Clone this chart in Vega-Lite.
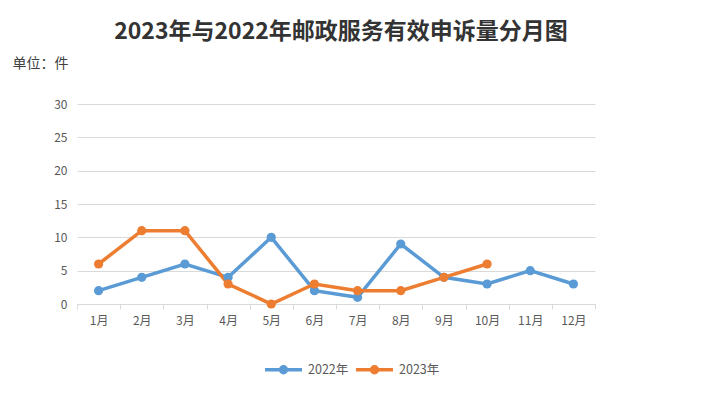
{
  "$schema": "https://vega.github.io/schema/vega-lite/v6.json",
  "autosize": {"type": "none"},
  "width": 518,
  "height": 200,
  "padding": {"left": 77, "top": 104, "right": 111, "bottom": 90},
  "background": "white",
  "title": {
    "text": "2023年与2022年邮政服务有效申诉量分月图",
    "font": "Noto Sans CJK SC",
    "fontSize": 23,
    "fontWeight": "bold",
    "color": "#333333",
    "anchor": "middle",
    "frame": "group",
    "dx": 5,
    "offset": 12
  },
  "data": {
    "values": [
      {"month": "1月", "year": "2022年", "value": 2},
      {"month": "2月", "year": "2022年", "value": 4},
      {"month": "3月", "year": "2022年", "value": 6},
      {"month": "4月", "year": "2022年", "value": 4},
      {"month": "5月", "year": "2022年", "value": 10},
      {"month": "6月", "year": "2022年", "value": 2},
      {"month": "7月", "year": "2022年", "value": 1},
      {"month": "8月", "year": "2022年", "value": 9},
      {"month": "9月", "year": "2022年", "value": 4},
      {"month": "10月", "year": "2022年", "value": 3},
      {"month": "11月", "year": "2022年", "value": 5},
      {"month": "12月", "year": "2022年", "value": 3},
      {"month": "1月", "year": "2023年", "value": 6},
      {"month": "2月", "year": "2023年", "value": 11},
      {"month": "3月", "year": "2023年", "value": 11},
      {"month": "4月", "year": "2023年", "value": 3},
      {"month": "5月", "year": "2023年", "value": 0},
      {"month": "6月", "year": "2023年", "value": 3},
      {"month": "7月", "year": "2023年", "value": 2},
      {"month": "8月", "year": "2023年", "value": 2},
      {"month": "9月", "year": "2023年", "value": 4},
      {"month": "10月", "year": "2023年", "value": 6}
    ]
  },
  "mark": {
    "type": "line",
    "strokeWidth": 3.5,
    "point": {"filled": true, "size": 85}
  },
  "encoding": {
    "x": {
      "field": "month",
      "type": "ordinal",
      "sort": ["1月","2月","3月","4月","5月","6月","7月","8月","9月","10月","11月","12月"],
      "scale": {"type": "band", "paddingInner": 0, "paddingOuter": 0},
      "axis": {
        "title": null,
        "labelAngle": 0,
        "labelFont": "Noto Sans CJK SC",
        "labelFontSize": 12,
        "labelColor": "#595959",
        "labelPadding": 6,
        "tickBand": "extent",
        "tickColor": "#d9d9d9",
        "tickSize": 5,
        "domainColor": "#d9d9d9",
        "grid": false
      }
    },
    "y": {
      "field": "value",
      "type": "quantitative",
      "scale": {"domain": [0, 30], "nice": false},
      "axis": {
        "values": [0, 5, 10, 15, 20, 25, 30],
        "title": "单位：件",
        "titleAngle": 0,
        "titleAlign": "left",
        "titleBaseline": "middle",
        "titleX": -65,
        "titleY": -41,
        "titleFont": "Noto Sans CJK SC",
        "titleFontSize": 14,
        "titleFontWeight": "normal",
        "titleColor": "#404040",
        "labelFont": "Noto Sans CJK SC",
        "labelFontSize": 12,
        "labelColor": "#595959",
        "labelPadding": 10,
        "domain": false,
        "ticks": false,
        "gridColor": "#d9d9d9",
        "gridWidth": 1
      }
    },
    "color": {
      "field": "year",
      "type": "nominal",
      "scale": {"domain": ["2022年", "2023年"], "range": ["#5B9BD5", "#ED7D31"]},
      "legend": {
        "title": null,
        "orient": "none",
        "legendX": 186,
        "legendY": 245,
        "direction": "horizontal",
        "symbolType": "M -1 0 L 1 0 M -0.16 0 A 0.16 0.16 0 1 0 0.16 0 A 0.16 0.16 0 1 0 -0.16 0 Z",
        "symbolSize": 1369,
        "symbolStrokeWidth": 3.5,
        "labelFont": "Noto Sans CJK SC",
        "labelFontSize": 12.5,
        "labelColor": "#595959",
        "labelOffset": 4,
        "columnPadding": 0
      }
    }
  },
  "config": {
    "view": {"stroke": null}
  }
}
